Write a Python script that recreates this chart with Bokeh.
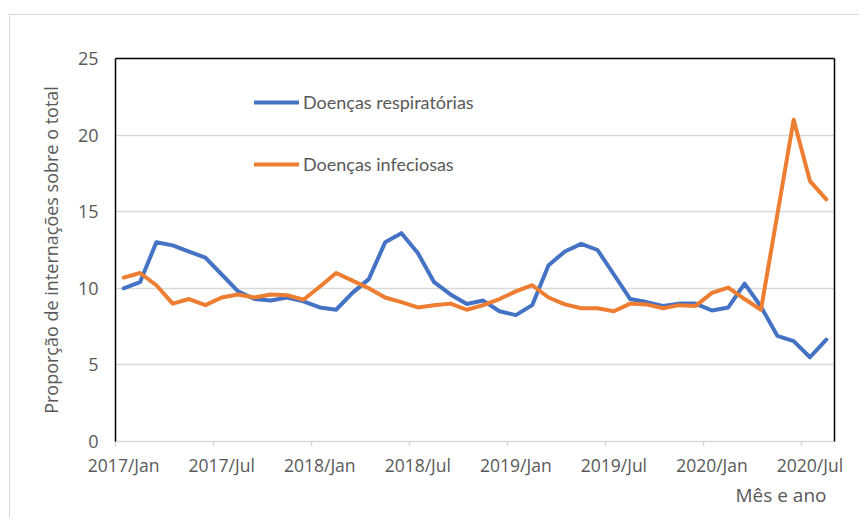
from bokeh.plotting import figure
from bokeh.models import (Range1d, FixedTicker, LinearAxis, Legend, LegendItem, Title,
                          ColumnDataSource)
from bokeh.embed import file_html
from bokeh.resources import INLINE

# ---------------- data ----------------
months = ["2017/Jan", "2017/Feb", "2017/Mar", "2017/Apr", "2017/May", "2017/Jun",
          "2017/Jul", "2017/Aug", "2017/Sep", "2017/Oct", "2017/Nov", "2017/Dec",
          "2018/Jan", "2018/Feb", "2018/Mar", "2018/Apr", "2018/May", "2018/Jun",
          "2018/Jul", "2018/Aug", "2018/Sep", "2018/Oct", "2018/Nov", "2018/Dec",
          "2019/Jan", "2019/Feb", "2019/Mar", "2019/Apr", "2019/May", "2019/Jun",
          "2019/Jul", "2019/Aug", "2019/Sep", "2019/Oct", "2019/Nov", "2019/Dec",
          "2020/Jan", "2020/Feb", "2020/Mar", "2020/Apr", "2020/May", "2020/Jun",
          "2020/Jul", "2020/Aug"]

respiratorias = [10.0, 10.4, 13.0, 12.8, 12.4, 12.0, 10.9, 9.8, 9.3, 9.2, 9.4, 9.15,
                 8.75, 8.6, 9.7, 10.6, 13.0, 13.6, 12.3, 10.4, 9.6, 8.97, 9.2, 8.5,
                 8.25, 8.9, 11.5, 12.4, 12.9, 12.5, 10.9, 9.3, 9.1, 8.85, 9.0, 9.0,
                 8.55, 8.75, 10.3, 8.8, 6.9, 6.55, 5.5, 6.65]

infecciosas = [10.7, 11.0, 10.2, 9.0, 9.3, 8.9, 9.4, 9.6, 9.4, 9.6, 9.55, 9.25,
               10.1, 11.0, 10.5, 10.0, 9.4, 9.1, 8.75, 8.9, 9.0, 8.6, 8.9, 9.3,
               9.8, 10.2, 9.4, 8.95, 8.7, 8.7, 8.5, 9.0, 8.95, 8.7, 8.9, 8.85,
               9.7, 10.05, 9.3, 8.6, 14.8, 21.0, 17.0, 15.8]

tick_labels = ["2017/Jan", "2017/Jul", "2018/Jan", "2018/Jul",
               "2019/Jan", "2019/Jul", "2020/Jan", "2020/Jul"]
y_ticks = [0, 5, 10, 15, 20, 25]

series_names = ["Doenças respiratórias", "Doenças infeciosas"]
colors = ["#4472C4", "#ED7D31"]

# ---------------- figure ----------------
idx = list(range(len(months)))
source = ColumnDataSource(dict(x=idx, resp=respiratorias, inf=infecciosas, month=months))

TEXT = "#595959"
GRID = "#d9d9d9"

p = figure(width=850, height=504, output_backend="svg", toolbar_location=None,
           x_range=Range1d(-0.5, len(months) - 0.5), y_range=Range1d(0, 25),
           min_border_left=105, min_border_right=26, min_border_top=43,
           min_border_bottom=78, margin=(14, 0, 0, 9))
p.styles = {"border-top": "1px solid #d9d9d9", "border-left": "1px solid #d9d9d9"}
p.outline_line_color = None
p.background_fill_color = "white"
p.border_fill_color = "white"

r1 = p.line("x", "resp", source=source, line_color=colors[0], line_width=4,
            line_join="round", line_cap="round")
r2 = p.line("x", "inf", source=source, line_color=colors[1], line_width=4,
            line_join="round", line_cap="round")

# x axis
label_pos = [months.index(t) for t in tick_labels]
xa = p.xaxis[0]
xa.ticker = FixedTicker(ticks=label_pos, minor_ticks=[v - 0.5 for v in label_pos])
xa.major_label_overrides = {pos: lab for pos, lab in zip(label_pos, tick_labels)}
xa.major_tick_line_color = None
xa.major_tick_out = 0
xa.major_tick_in = 0
xa.minor_tick_line_color = GRID
xa.minor_tick_line_width = 1.5
xa.minor_tick_out = 5
xa.minor_tick_in = 0
xa.axis_line_color = GRID
xa.axis_line_width = 1.5
xa.major_label_text_font = "Open Sans"
xa.major_label_text_font_size = "17.5px"
xa.major_label_text_color = TEXT
xa.major_label_standoff = 6

# y axis
ya = p.yaxis[0]
ya.ticker = FixedTicker(ticks=y_ticks)
ya.major_tick_line_color = None
ya.minor_tick_line_color = None
ya.axis_line_color = "black"
ya.axis_line_width = 1.5
ya.major_label_text_font = "Open Sans"
ya.major_label_text_font_size = "18px"
ya.major_label_text_color = TEXT
ya.major_label_standoff = 11
ya.axis_label = "Proporção de internações sobre o total"
ya.axis_label_text_font = "Open Sans"
ya.axis_label_text_font_size = "18px"
ya.axis_label_text_font_style = "normal"
ya.axis_label_text_color = TEXT
ya.axis_label_standoff = 12

p.xgrid.grid_line_color = None
p.ygrid.ticker = FixedTicker(ticks=y_ticks)
p.ygrid.grid_line_color = GRID
p.ygrid.grid_line_width = 1.5

# frame borders (top, right) in black
for side in ("above", "right"):
    ax = LinearAxis(ticker=FixedTicker(ticks=[]), major_label_text_font_size="0px",
                    major_tick_line_color=None, minor_tick_line_color=None,
                    axis_line_color="black", axis_line_width=1.5)
    p.add_layout(ax, side)

# x axis title at right, below the tick labels
p.add_layout(Title(text="Mês e ano", align="right", text_font="Open Sans",
                   text_font_size="19px", text_color=TEXT, text_font_style="normal",
                   standoff=0, offset=8), "below")

# legend
legend = Legend(items=[LegendItem(label=series_names[0], renderers=[r1]),
                       LegendItem(label=series_names[1], renderers=[r2])],
                location=(139, 266), orientation="vertical",
                glyph_width=45, glyph_height=20, label_height=20, spacing=40,
                label_standoff=4, padding=0, margin=0,
                label_text_font="Lato", label_text_font_size="18px",
                label_text_color=TEXT, border_line_color=None,
                background_fill_alpha=0)
p.add_layout(legend, "center")

open("out.html", "w").write(file_html(p, INLINE))
